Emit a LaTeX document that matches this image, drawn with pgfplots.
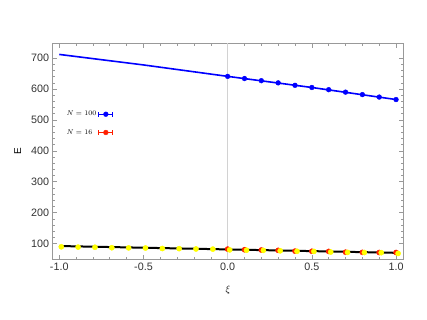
\documentclass[border=0pt]{standalone}
\usepackage{fontspec}
\setmainfont{Liberation Sans}
\usepackage{pgfplots}
\pgfplotsset{compat=1.18}
\usetikzlibrary{calc}
\definecolor{framegray}{gray}{0.6}
\definecolor{ticktext}{gray}{0.2}
\definecolor{mblue}{rgb}{0,0,1}
\definecolor{mred}{rgb}{1,0.12,0}
\definecolor{myellow}{rgb}{1,1,0}
\pgfplotsset{
  errbar/.style={legend image code/.code={
    \draw[##1, line width=1.2bp] (0bp,0bp) -- (14bp,0bp);
    \draw[##1, line width=1bp] (0bp,-2.5bp) -- (0bp,2.5bp);
    \draw[##1, line width=1bp] (14bp,-2.5bp) -- (14bp,2.5bp);
    \fill[##1] (7bp,0bp) circle (2.4bp);
  }}
}
\begin{document}
\begin{tikzpicture}
\begin{axis}[
    name=ax, at={(0,0)}, anchor=south west,
    width=350.6bp, height=215.7bp, scale only axis,
    xmin=-1.039, xmax=1.043, ymin=50, ymax=748,
    xtick={-1,-0.5,0,0.5,1}, minor x tick num=4,
    ytick={100,200,300,400,500,600,700}, minor y tick num=4,
    axis line style={framegray, line width=0.8bp},
    tick style={framegray, line width=0.6bp},
    major tick length=4.5bp, minor tick length=2.5bp,
    /pgf/number format/assume math mode=true,
    ticklabel style={font=\fontsize{10.8}{12}\selectfont, text=ticktext},
    xticklabel style={/pgf/number format/.cd, fixed, fixed zerofill, precision=1},
    xlabel={$\xi$}, ylabel={E},
    label style={font=\fontsize{10.5}{12}\selectfont, text=ticktext},
    every axis x label/.style={at={(axis description cs:0.5,-0.144)}, anchor=center},
    every axis y label/.style={at={(axis description cs:-0.1,0.5)}, rotate=90, anchor=center},
    legend plot pos=right,
    legend style={at={(axis description cs:0.025,0.705)}, anchor=north west,
      draw=none, fill=none, font=\fontsize{6.8}{8}\selectfont,
      row sep=8bp, cells={anchor=west}},
]
% axis line at xi = 0
\addplot[gray!35, line width=1.3bp, forget plot] coordinates {(0,50) (0,748)};

% N = 100
\addplot[mblue, line width=1.6bp, forget plot] coordinates {
  (-1,712) (-0.5,678) (0,641) (0.5,605) (1,566)};
\addplot[mblue, only marks, mark=*, mark size=2.4bp, forget plot] coordinates {
  (0,641) (0.1,634) (0.2,627) (0.3,620) (0.4,612) (0.5,605)
  (0.6,598) (0.7,590) (0.8,582) (0.9,574) (1,566)};

% N = 16
\addplot[black, line width=2bp, forget plot] coordinates {
  (-1,92) (0,81) (1,70)};
\addplot[mred, only marks, mark=*, mark size=2.6bp, forget plot] coordinates {
  (0,82) (0.1,80) (0.2,79) (0.3,78) (0.4,75.5) (0.5,75)
  (0.6,74.5) (0.7,72) (0.8,71.5) (0.9,71) (1,71)};
\addplot[myellow, only marks, mark=*, mark size=2.6bp, forget plot] coordinates {
  (-0.988,89.5) (-0.888,88.5) (-0.788,88) (-0.688,86.5) (-0.588,86)
  (-0.488,85.5) (-0.388,84) (-0.288,83.5) (-0.188,82.5) (-0.088,82)
  (0.012,79.5) (0.112,78.5) (0.212,78) (0.312,76.5) (0.412,75)
  (0.512,74.5) (0.612,72.5) (0.712,71.5) (0.812,71) (0.912,70.5) (1.012,68)};

\addlegendimage{mblue, errbar}
\addlegendentry{$N = 100$}
\addlegendimage{mred, errbar}
\addlegendentry{$N = 16$\hphantom{0}}
\end{axis}
\path[use as bounding box] ($(ax.south west)+(-52.7bp,-61bp)$) rectangle ($(ax.north east)+(23.7bp,43.3bp)$);
\end{tikzpicture}
\end{document}
